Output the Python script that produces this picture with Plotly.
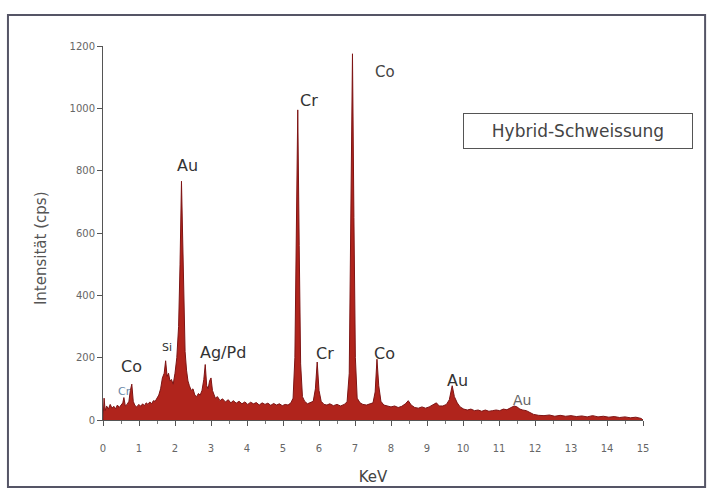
import plotly.graph_objects as go

energy = [0.00,0.03,0.06,0.10,0.15,0.20,0.25,0.30,0.35,0.40,0.45,0.50,0.55,0.58,0.62,0.67,0.72,0.76,0.80,0.84,
          0.88,0.93,1.00,1.05,1.10,1.15,1.20,1.25,1.30,1.35,1.40,1.45,1.50,1.55,1.60,1.65,1.70,1.74,1.78,1.82,
          1.86,1.90,1.95,2.00,2.05,2.10,2.14,2.18,2.21,2.24,2.28,2.32,2.36,2.40,2.45,2.50,2.55,2.60,2.65,2.70,
          2.75,2.80,2.84,2.88,2.92,2.96,3.00,3.04,3.08,3.12,3.18,3.25,3.32,3.40,3.48,3.55,3.62,3.70,3.78,3.86,
          3.94,4.02,4.10,4.18,4.26,4.34,4.42,4.50,4.58,4.66,4.74,4.82,4.90,4.98,5.06,5.14,5.22,5.28,5.33,5.37,
          5.41,5.45,5.49,5.54,5.60,5.68,5.76,5.84,5.90,5.95,6.00,6.06,6.14,6.22,6.30,6.40,6.50,6.60,6.70,6.78,
          6.84,6.88,6.93,6.97,7.01,7.06,7.14,7.22,7.32,7.42,7.50,7.56,7.61,7.66,7.72,7.80,7.90,8.00,8.10,8.20,
          8.30,8.40,8.48,8.56,8.66,8.76,8.86,8.96,9.06,9.16,9.26,9.34,9.44,9.54,9.62,9.70,9.76,9.84,9.92,10.02,
          10.12,10.22,10.32,10.42,10.52,10.62,10.72,10.82,10.92,11.02,11.12,11.22,11.32,11.42,11.50,11.58,11.66,11.76,11.86,11.96,
          12.10,12.25,12.40,12.55,12.70,12.85,13.00,13.15,13.30,13.45,13.60,13.75,13.90,14.05,14.20,14.35,14.50,14.65,14.80,14.95,
          15.00]
counts = [0,70,30,45,35,50,38,44,36,48,40,46,55,72,45,50,60,95,115,60,
          48,42,50,44,52,46,55,50,58,52,62,60,70,80,100,135,150,190,140,150,
          125,130,115,150,200,300,500,766,600,380,220,160,125,110,95,100,80,75,85,80,
          95,130,178,110,100,125,135,95,80,70,75,62,68,58,65,55,62,54,60,52,
          58,50,57,52,56,48,55,50,54,47,53,48,52,46,50,48,55,70,200,600,
          995,560,180,75,60,52,56,60,100,186,95,60,50,48,52,46,50,45,50,58,
          150,600,1175,650,200,70,55,50,48,52,55,90,195,110,60,48,45,42,45,40,
          44,52,62,48,40,38,42,38,42,48,55,45,45,50,65,110,75,55,42,35,
          32,35,30,32,28,32,28,30,32,30,35,33,40,45,42,35,32,30,24,18,
          15,14,16,12,15,12,14,11,13,10,14,10,12,9,11,8,10,7,9,5,
          0]

peak_labels = ["Cr", "Co", "Si", "Au", "Ag/Pd", "Cr", "Cr", "Co", "Co", "Au", "Au"]
label_x = [0.60, 0.80, 1.78, 2.36, 3.33, 6.17, 5.72, 7.83, 7.83, 9.86, 11.64]
label_y = [90, 173, 234, 816, 218, 214, 1024, 214, 1116, 128, 64]
label_size = [11, 16, 11, 16, 16, 16, 16, 16, 15, 16, 14]
label_color = ["#6a88a8", "#333333", "#333333", "#333333", "#333333", "#333333",
               "#333333", "#333333", "#444444", "#333333", "#666666"]

x_ticks = list(range(0, 16))
y_ticks = [0, 200, 400, 600, 800, 1000, 1200]
legend_text = "Hybrid-Schweissung"
y_title = "Intensität (cps)"
x_title = "KeV"

FONT = "DejaVu Sans, Verdana, sans-serif"

fig = go.Figure()
fig.add_trace(go.Scatter(x=energy, y=counts, mode="lines", fill="tozeroy",
                         line=dict(color="#7e1414", width=1),
                         fillcolor="#b0241c", showlegend=False))

for t, x, y, s, c in zip(peak_labels, label_x, label_y, label_size, label_color):
    fig.add_annotation(x=x, y=y, text=t, showarrow=False,
                       font=dict(family=FONT, size=s, color=c))

fig.add_annotation(xref="paper", yref="paper", x=0.667, y=0.821, xanchor="left", yanchor="top",
                   text=legend_text, showarrow=False, bordercolor="#555555", borderwidth=1,
                   borderpad=7, bgcolor="white", width=214,
                   font=dict(family=FONT, size=17, color="#444444"))

fig.add_annotation(xref="paper", yref="paper", x=-0.135, y=0.46, text=y_title, textangle=-90,
                   showarrow=False, font=dict(family=FONT, size=15, color="#555555"))

fig.add_shape(type="rect", xref="paper", yref="paper", x0=-0.176, x1=1.115, y0=-0.179, y1=1.083,
              line=dict(color="#555566", width=2))

axis_font = dict(family=FONT, size=10, color="#666666")
fig.update_layout(
    width=709, height=495,
    margin=dict(l=103, r=66, t=46, b=75),
    paper_bgcolor="white", plot_bgcolor="white",
    xaxis=dict(range=[0, 15], tickvals=x_ticks, ticks="outside", ticklen=5,
               tickcolor="#555555", showline=True, linecolor="#555555", linewidth=1,
               showgrid=False, zeroline=False, tickfont=axis_font, ticklabelstandoff=14,
               minor=dict(dtick=0.5, ticks="outside", ticklen=3, tickcolor="#777777"),
               title=dict(text=x_title, font=dict(family=FONT, size=15, color="#444444"),
                          standoff=18)),
    yaxis=dict(range=[0, 1200], tickvals=y_ticks, ticks="outside", ticklen=5,
               tickcolor="#555555", showline=True, linecolor="#555555", linewidth=1,
               showgrid=False, zeroline=False, tickfont=axis_font),
)

fig.write_html("out.html")
